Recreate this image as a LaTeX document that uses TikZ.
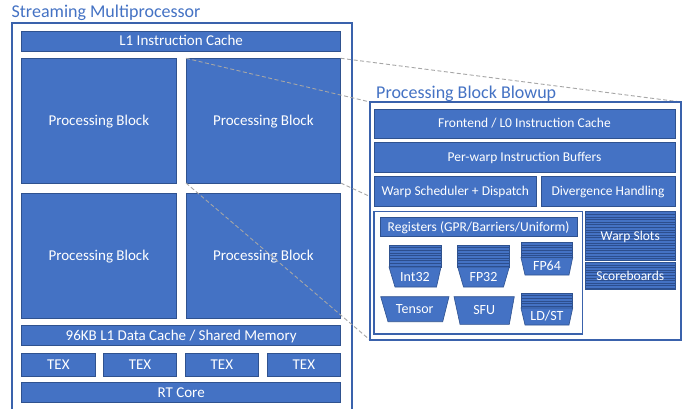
\documentclass[tikz,border=0pt]{standalone}
\usepackage{fontspec}
\setmainfont{Carlito}
\usetikzlibrary{calc}

\definecolor{boxblue}{HTML}{4472C4}
\definecolor{edgeblue}{HTML}{2F528F}
\definecolor{stripeblue}{HTML}{2C4E8E}
\definecolor{frameblue}{HTML}{3A62AC}
\definecolor{titleblue}{HTML}{4472C4}
\definecolor{guide}{HTML}{A6A6A6}

\pgfdeclarelayer{guides}
\pgfdeclarelayer{blowup}
\pgfsetlayers{main,guides,blowup}

\tikzset{
  box/.style={draw=edgeblue, fill=boxblue, line width=0.6pt, text=white,
    inner sep=0pt, outer sep=0pt, text height=13pt, text depth=3pt,
    font=\fontsize{15}{15}\selectfont},
  smallbox/.style={box, text height=12pt, text depth=3pt,
    font=\fontsize{13.5}{13.5}\selectfont},
  frame/.style={draw=frameblue, line width=1.2pt, fill=white, inner sep=0pt, outer sep=0pt},
  striped/.style={path picture={
      \foreach \k in {1,...,40}{
        \draw[stripeblue, line width=0.6pt]
          ($(path picture bounding box.north west)+(0,\k*2.6)$) --
          ($(path picture bounding box.north east)+(0,\k*2.6)$);}}},
  unitshape/.style={draw=edgeblue, fill=boxblue, line width=0.6pt},
  unitlabel/.style={text=white, inner sep=0pt, font=\fontsize{14}{14}\selectfont},
  title/.style={text=titleblue, inner sep=0pt, anchor=base west},
  guideline/.style={draw=guide, line width=0.9pt, dash pattern=on 4pt off 2.5pt},
}

% rectangular block: name, x1, y1, x2, y2, style, text
\newcommand\blockat[7]{%
  \node[#6, minimum width={#4-#2}, minimum height={#5-#3}]
    (#1) at ({(#2+#4)/2},{(#3+#5)/2}) {#7};}

\begin{document}
\begin{tikzpicture}[x=1pt, y=-1pt]
\useasboundingbox (0,0) rectangle (688,409);
\clip (0,0) rectangle (688,409);
\fill[white] (0,0) rectangle (688,409);

% ---------------- Streaming Multiprocessor ----------------
\node[title, font=\fontsize{18}{18}\selectfont] (smtitle) at (11.5,17.3) {Streaming Multiprocessor};
\blockat{sm}{12}{23}{352}{420}{frame}{}

\blockat{l1i}{21.7}{31}{340.7}{51}{box}{L1 Instruction Cache}
\blockat{pbul}{21.7}{58.3}{176}{183}{box}{Processing Block}
\blockat{pbur}{186}{58.3}{340.7}{183}{box}{Processing Block}
\blockat{pbll}{21.7}{193}{176}{318}{box}{Processing Block}
\blockat{pblr}{186}{193}{340.7}{318}{box}{Processing Block}
\blockat{l1d}{21.7}{325}{340.7}{345.7}{box}{96KB L1 Data Cache / Shared Memory}
\blockat{texa}{21.7}{353}{95}{376.7}{box}{TEX}
\blockat{texb}{103.3}{353}{176.7}{376.7}{box}{TEX}
\blockat{texc}{185}{353}{258.7}{376.7}{box}{TEX}
\blockat{texd}{267}{353}{340.7}{376.7}{box}{TEX}
\blockat{rt}{21.7}{382}{340.7}{402.7}{box}{RT Core}

% ---------------- Processing Block Blowup ----------------
\begin{pgfonlayer}{blowup}
\node[title, font=\fontsize{18}{18}\selectfont] (bltitle) at (376,98.3) {Processing Block Blowup};
\blockat{blow}{370}{102}{681}{340}{frame}{}

\blockat{front}{374}{109}{675}{138}{smallbox}{Frontend / L0 Instruction Cache}
\blockat{ibuf}{374}{142}{675}{172}{smallbox}{Per-warp Instruction Buffers}
\blockat{sched}{374}{176}{536.7}{206}{smallbox}{Warp Scheduler + Dispatch}
\blockat{diverge}{541}{176}{675}{206}{smallbox}{Divergence Handling}

\blockat{exec}{374}{211.7}{582.3}{334}{frame}{}
\blockat{regs}{380}{217.3}{577.3}{236.7}{smallbox}{Registers (GPR/Barriers/Uniform)}
\blockat{slots}{585}{211.7}{675.5}{260}{smallbox, striped}{Warp Slots}
\blockat{score}{585}{262.3}{675.5}{289.3}{smallbox, striped}{Scoreboards}

% execution units: stacked lanes on top of a tapered unit
\blockat{int32lanes}{389}{245}{441}{267}{smallbox, striped}{}
\draw[unitshape] (int32lanes.south west) -- (int32lanes.south east) -- (436.5,287) -- (395,287) -- cycle;
\node[unitlabel] (int32) at (415,277.5) {Int32};

\blockat{fp32lanes}{457.7}{245}{509.3}{267}{smallbox, striped}{}
\draw[unitshape] (fp32lanes.south west) -- (fp32lanes.south east) -- (503.5,287) -- (463.5,287) -- cycle;
\node[unitlabel] (fp32) at (483.5,277.5) {FP32};

\blockat{fp64lanes}{521}{245}{572.7}{255}{smallbox, striped}{}
\draw[unitshape] (fp64lanes.south west) -- (fp64lanes.south east) -- (569,275) -- (525,275) -- cycle;
\node[unitlabel] (fp64) at (547,265.5) {FP64};

\draw[unitshape] (380.7,296.7) -- (449,296.7) -- (442.7,321.7) -- (388,321.7) -- cycle;
\node[unitlabel] (tensor) at (414.8,309.5) {Tensor};

\draw[unitshape] (454,296.7) -- (514.3,296.7) -- (509.3,324.3) -- (460,324.3) -- cycle;
\node[unitlabel] (sfu) at (484.2,310.5) {SFU};

\blockat{ldstlanes}{521}{294.3}{572.7}{306.7}{smallbox, striped}{}
\draw[unitshape] (ldstlanes.south west) -- (ldstlanes.south east) -- (569,325) -- (525,325) -- cycle;
\node[unitlabel] (ldst) at (547,316) {LD/ST};
\end{pgfonlayer}

% ---------------- zoom guide lines ----------------
\begin{pgfonlayer}{guides}
\draw[guideline] (pbur.north west) -- (blow.north west);
\draw[guideline] (pbur.north east) -- (blow.north east);
\draw[guideline] (pbur.south west) -- (blow.south west);
\draw[guideline] (pbur.south east) -- (blow.south east);
\end{pgfonlayer}
\end{tikzpicture}
\end{document}
